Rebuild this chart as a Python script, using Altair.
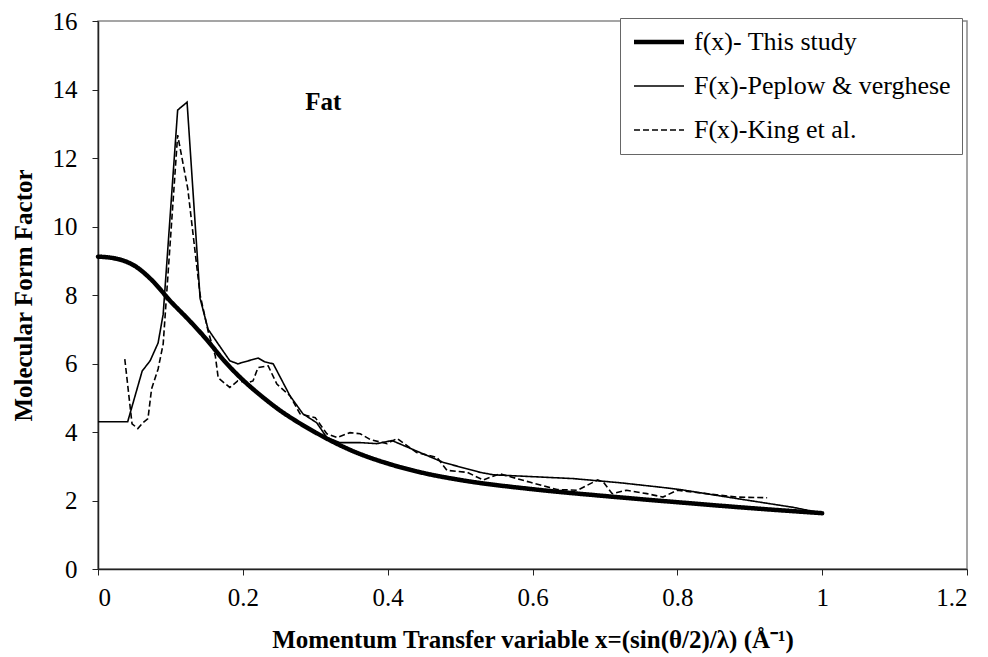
import altair as alt
import pandas as pd

# f(x) - This study (thick line)
fx_x = [0.0, 0.025, 0.05, 0.075, 0.1, 0.125, 0.15, 0.175, 0.2, 0.225, 0.25, 0.275, 0.3,
        0.35, 0.4, 0.45, 0.5, 0.6, 0.7, 0.8, 0.9, 1.0]
fx_y = [9.12, 9.06, 8.86, 8.42, 7.82, 7.28, 6.7, 6.06, 5.52, 5.06, 4.65, 4.3, 3.99,
        3.46, 3.08, 2.8, 2.6, 2.33, 2.13, 1.95, 1.78, 1.63]

# F(x) - Peplow & verghese (thin solid)
pv_x = [0.0, 0.041, 0.061, 0.072, 0.083, 0.09, 0.11, 0.123, 0.141, 0.152, 0.165, 0.182,
        0.193, 0.221, 0.23, 0.242, 0.265, 0.283, 0.302, 0.316, 0.334, 0.362, 0.385, 0.406,
        0.477, 0.528, 0.546, 0.656, 0.72, 0.776, 0.804, 0.869, 0.96, 1.0]
pv_y = [4.3, 4.3, 5.78, 6.08, 6.6, 7.44, 13.4, 13.63, 7.9, 7.0, 6.6, 6.08,
        5.99, 6.16, 6.05, 5.99, 5.06, 4.53, 4.27, 3.84, 3.69, 3.69, 3.66, 3.75,
        3.11, 2.82, 2.75, 2.64, 2.52, 2.39, 2.32, 2.1, 1.8, 1.63]

# F(x) - King et al. (dashed)
king_x = [0.037, 0.047, 0.055, 0.062, 0.069, 0.074, 0.083, 0.09, 0.11, 0.124, 0.141, 0.152,
          0.162, 0.166, 0.182, 0.193, 0.207, 0.214, 0.221, 0.235, 0.247, 0.265, 0.279, 0.3,
          0.316, 0.33, 0.348, 0.362, 0.376, 0.399, 0.413, 0.44, 0.468, 0.482, 0.51, 0.532,
          0.555, 0.597, 0.634, 0.662, 0.69, 0.698, 0.71, 0.73, 0.758, 0.78, 0.8, 0.84,
          0.882, 0.924]
king_y = [6.13, 4.24, 4.1, 4.27, 4.39, 5.26, 5.84, 6.57, 12.67, 11.1, 8.0, 6.95,
          6.22, 5.58, 5.3, 5.49, 5.44, 5.49, 5.88, 5.93, 5.4, 5.06, 4.53, 4.42,
          3.95, 3.84, 3.98, 3.95, 3.78, 3.66, 3.81, 3.4, 3.26, 2.88, 2.82, 2.6,
          2.78, 2.53, 2.32, 2.3, 2.6, 2.53, 2.2, 2.3, 2.2, 2.1, 2.3, 2.2,
          2.1, 2.08]

SERIES = ["f(x)- This study", "F(x)-Peplow & verghese", "F(x)-King et al."]
x_ticks = [0, 0.2, 0.4, 0.6, 0.8, 1.0, 1.2]
y_ticks = [0, 2, 4, 6, 8, 10, 12, 14, 16]

label_x = [0.311]
label_y = [13.63]
label_t = ["Fat"]

rows = []
for s, xs, ys in zip(SERIES, [fx_x, pv_x, king_x], [fx_y, pv_y, king_y]):
    for i, (a, b) in enumerate(zip(xs, ys)):
        rows.append({"series": s, "x": a, "y": b, "order": i})
df = pd.DataFrame(rows)

FONT = "Liberation Serif"

leg = alt.Legend(
    orient="none", legendX=522, legendY=-3, title=None,
    symbolType="M-1,0H4", symbolSize=400, symbolStrokeColor="black",
    symbolFillColor="transparent",
    labelFont=FONT, labelFontSize=26, labelColor="black", labelLimit=500,
    labelOffset=37, fillColor="white", strokeColor="#666", padding=11,
    rowPadding=18,
)

xenc = alt.X("x:Q", scale=alt.Scale(domain=[0, 1.2], nice=False, zero=False),
             axis=alt.Axis(values=x_ticks, format=".1~f",
                           title="Momentum Transfer variable x=(sin(θ/2)/λ) (Å⁻¹)"))
yenc = alt.Y("y:Q", scale=alt.Scale(domain=[0, 16], nice=False),
             axis=alt.Axis(values=y_ticks, title="Molecular Form Factor"))
dash = alt.StrokeDash("series:N",
                      scale=alt.Scale(domain=SERIES, range=[[1, 0], [1, 0], [6, 3]]),
                      legend=leg)
width = alt.StrokeWidth("series:N",
                        scale=alt.Scale(type="ordinal", domain=SERIES, range=[4.5, 1.6, 1.6]),
                        legend=leg)

base = alt.Chart(df).encode(x=xenc, y=yenc, strokeDash=dash, strokeWidth=width,
                            detail="series:N", order="order:Q")

thick = base.transform_filter(alt.datum.series == SERIES[0]).mark_line(
    color="black", interpolate="monotone", strokeCap="round")
thin = base.transform_filter(alt.datum.series != SERIES[0]).mark_line(color="black")

label = alt.Chart(pd.DataFrame({"x": label_x, "y": label_y, "t": label_t})).mark_text(
    font=FONT, fontSize=25, fontWeight="bold", color="black"
).encode(x="x:Q", y="y:Q", text="t:N")

chart = alt.layer(thin, thick, label).properties(
    width=869, height=548,
    autosize=alt.AutoSizeParams(type="none"),
    padding={"left": 90, "top": 13, "right": 13, "bottom": 88},
).configure_view(
    stroke="#888", strokeWidth=1.5
).configure_axis(
    grid=False, domainColor="#222", domainWidth=1.5, tickColor="#222", tickSize=6,
    labelFont=FONT, labelFontSize=25, labelColor="black",
    titleFont=FONT, titleFontSize=25, titleFontWeight="bold", titleColor="black",
).configure_axisX(
    titlePadding=17, labelPadding=10
).configure_axisY(
    titlePadding=16, labelPadding=15
)

chart.save("out.html", embed_options={"renderer": "svg", "actions": False})
